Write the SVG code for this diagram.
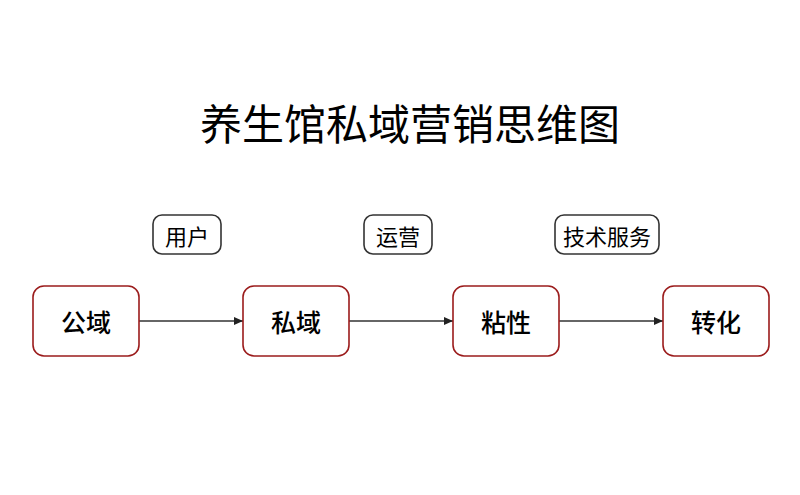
<svg xmlns="http://www.w3.org/2000/svg" width="800" height="495" viewBox="0 0 800 495">
<style>
.node rect{fill:#fff;stroke:#9b1c1c;stroke-width:1.6}
.tag rect{fill:#fff;stroke:#333;stroke-width:1.6}
text{font-family:"Noto Sans CJK SC","Noto Sans",sans-serif;fill:#000;text-anchor:middle}
.nt{font-size:25px;font-weight:500}
.tt{font-size:22px}
.title{font-size:42px}
.conn line{stroke:#333;stroke-width:1.3}
</style>
<defs>
<marker id="ah" markerWidth="10" markerHeight="10" refX="9" refY="5" orient="auto" markerUnits="userSpaceOnUse">
<path d="M0,1 L9,5 L0,9 Z" fill="#222"/>
</marker>
</defs>
<rect width="800" height="495" fill="#fff"/>
<text class="title" x="410" y="140">养生馆私域营销思维图</text>
<g id="tag-yonghu" class="tag"><rect x="153" y="215" width="68" height="39" rx="9"/><text class="tt" x="187" y="245">用户</text></g>
<g id="tag-yunying" class="tag"><rect x="364" y="215" width="68" height="39" rx="9"/><text class="tt" x="398" y="245">运营</text></g>
<g id="tag-jishu" class="tag"><rect x="555" y="215" width="104" height="39" rx="9"/><text class="tt" x="607" y="245">技术服务</text></g>
<g class="conn">
<line x1="139" y1="321" x2="243" y2="321" marker-end="url(#ah)"/>
<line x1="349" y1="321" x2="453" y2="321" marker-end="url(#ah)"/>
<line x1="559" y1="321" x2="663" y2="321" marker-end="url(#ah)"/>
</g>
<g id="n-gongyu" class="node"><rect x="33" y="286" width="106" height="70" rx="11"/><text class="nt" x="86" y="332">公域</text></g>
<g id="n-siyu" class="node"><rect x="243" y="286" width="106" height="70" rx="11"/><text class="nt" x="296" y="332">私域</text></g>
<g id="n-nianxing" class="node"><rect x="453" y="286" width="106" height="70" rx="11"/><text class="nt" x="506" y="332">粘性</text></g>
<g id="n-zhuanhua" class="node"><rect x="663" y="286" width="106" height="70" rx="11"/><text class="nt" x="716" y="332">转化</text></g>
</svg>
